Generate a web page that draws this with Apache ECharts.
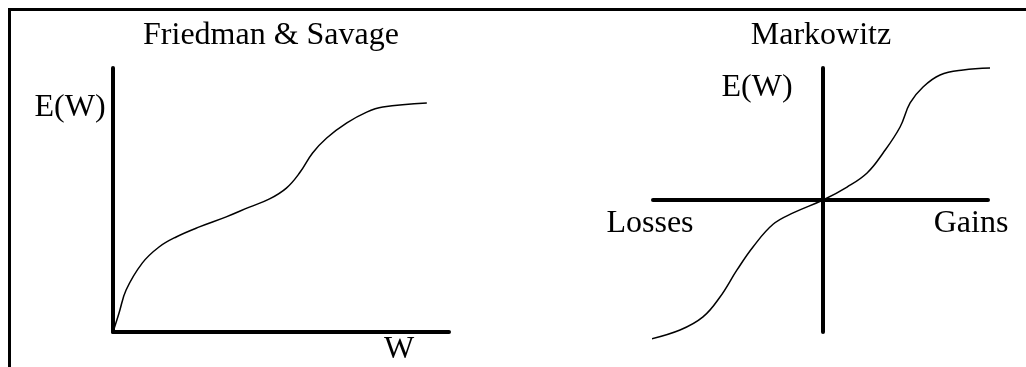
<!DOCTYPE html>
<html>
<head>
<meta charset="utf-8">
<script src="https://cdn.jsdelivr.net/npm/echarts@6/dist/echarts.min.js"></script>
<style>
  html, body { margin: 0; padding: 0; background: #fff; }
  #wrap { position: relative; width: 1026px; height: 367px; overflow: hidden; }
  #frame { position: absolute; left: 8px; top: 8px; width: 1100px; height: 400px; border-left: 3px solid #000; border-top: 3px solid #000; }
  #chart { position: absolute; left: 0; top: 0; width: 1026px; height: 367px; }
</style>
</head>
<body>
<div id="wrap">
  <div id="frame"></div>
  <div id="chart"></div>
</div>
<script>
// Friedman & Savage curve (wealth vs utility, 0..100 scale)
const fsW = [0, 1.8, 3.9, 8.7, 13.7, 18.8, 25.7, 33.7, 40.6, 46.6, 51.6, 55.5, 59.4, 63.6, 69.6, 75.5, 80.3, 93.4]
const fsU = [0, 7.2, 15.9, 26.1, 32.2, 36.0, 39.8, 43.6, 47.3, 50.4, 54.5, 60.2, 67.8, 73.5, 79.2, 83.3, 85.2, 86.7]

// Markowitz curve (losses/gains vs utility, -100..100 scale)
const mkX = [-103.5, -84.1, -70.6, -60.6, -50.6, -41.2, -29.4, -17.6, 0, 14.1, 25.9, 35.3, 45.3, 51.2, 58.8, 68.8, 82.4, 99.4]
const mkU = [-106, -98.5, -88.6, -73.5, -53.0, -35.6, -18.4, -9.8, 0, 9.8, 20.5, 35.6, 55.3, 73.5, 85.6, 94.7, 98.5, 100]

const font = '"Liberation Serif", "Times New Roman", serif'

function ax(min, max, idx) {
  return {
    type: 'value', min: min, max: max, gridIndex: idx,
    axisLine: { show: true, onZero: true, lineStyle: { color: '#000', width: 4 } },
    axisTick: { show: false }, axisLabel: { show: false }, splitLine: { show: false }
  }
}

function txt(s, x, y) {
  return { type: 'text', x: x, y: y, style: { text: s, font: '32px ' + font, fill: '#000', align: 'center', verticalAlign: 'middle' } }
}

const chart = echarts.init(document.getElementById('chart'))
chart.setOption({
  animation: false,
  grid: [
    { left: 113, top: 68, width: 336, height: 264 },
    { left: 653, top: 68, width: 335, height: 264 }
  ],
  xAxis: [ax(0, 100, 0), ax(-100, 97, 1)],
  yAxis: [ax(0, 100, 0), ax(-100, 100, 1)],
  series: [
    {
      type: 'line', xAxisIndex: 0, yAxisIndex: 0, smooth: 0.4, showSymbol: false, clip: false,
      lineStyle: { color: '#000', width: 1.5 },
      data: fsW.map((w, i) => [w, fsU[i]])
    },
    {
      type: 'line', xAxisIndex: 1, yAxisIndex: 1, smooth: 0.4, showSymbol: false, clip: false,
      lineStyle: { color: '#000', width: 1.5 },
      data: mkX.map((x, i) => [x, mkU[i]])
    }
  ],
  graphic: [
    txt('Friedman & Savage', 271, 36),
    txt('E(W)', 70, 108),
    txt('W', 399, 350),
    txt('Markowitz', 821, 36),
    txt('E(W)', 757, 88),
    txt('Losses', 650, 224),
    txt('Gains', 971, 224)
  ]
})
</script>
</body>
</html>
